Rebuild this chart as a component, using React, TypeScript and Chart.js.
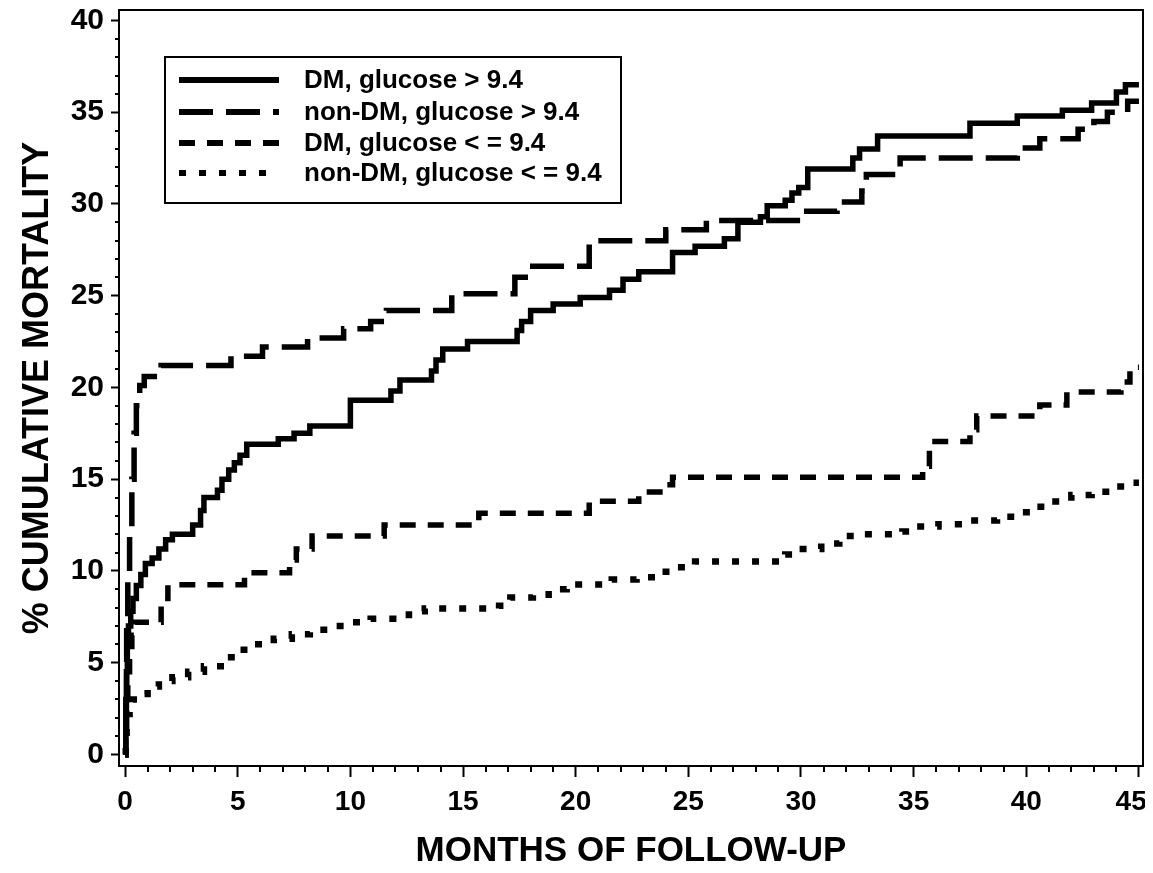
import React, { useEffect, useRef } from "react";
import { Chart, registerables } from "chart.js";

Chart.register(...registerables);

// ---- Data (Kaplan-Meier step points: month, cumulative mortality %) ----
const dmHighMonths = [0, 0.03, 0.06, 0.1, 0.15, 0.25, 0.35, 0.5, 0.7, 0.9, 1.2, 1.5, 1.8, 2.1, 3.0, 3.35, 3.5, 4.1, 4.3, 4.6, 4.85, 5.1, 5.4, 6.8, 7.5, 8.2, 10.0, 11.8, 12.2, 13.6, 13.8, 14.1, 15.2, 17.4, 17.6, 18.0, 19.0, 20.2, 21.5, 22.1, 22.8, 24.3, 25.3, 26.6, 27.2, 28.2, 28.5, 29.3, 29.6, 29.9, 30.3, 32.3, 32.6, 33.4, 37.5, 39.6, 41.6, 42.9, 44.0, 44.4, 45.0];
const dmHighPct = [0, 2.5, 4.5, 6, 7, 7.8, 8.5, 9.2, 9.8, 10.4, 10.7, 11.2, 11.7, 12.0, 12.5, 13.3, 14.0, 14.4, 15.0, 15.5, 15.9, 16.3, 16.9, 17.2, 17.5, 17.9, 19.3, 19.8, 20.4, 20.9, 21.5, 22.1, 22.5, 23.1, 23.6, 24.2, 24.55, 24.9, 25.3, 25.9, 26.3, 27.35, 27.7, 28.1, 29.0, 29.3, 29.9, 30.2, 30.6, 30.9, 31.9, 32.5, 33.0, 33.7, 34.4, 34.8, 35.1, 35.5, 36.1, 36.5, 36.5];

const nonDmHighMonths = [0, 0.03, 0.07, 0.12, 0.2, 0.3, 0.4, 0.5, 0.65, 0.85, 1.6, 4.7, 6.1, 8.1, 9.7, 10.9, 11.6, 14.5, 17.3, 17.9, 20.6, 24.0, 25.8, 30.0, 31.6, 32.7, 32.9, 34.4, 39.6, 40.6, 42.3, 43.0, 43.6, 44.5, 45.0];
const nonDmHighPct = [0, 3, 7, 9.5, 12, 15, 17.5, 19, 20.1, 20.6, 21.2, 21.7, 22.2, 22.7, 23.2, 23.6, 24.2, 25.1, 26.0, 26.6, 28.0, 28.6, 29.1, 29.6, 30.1, 30.7, 31.6, 32.5, 33.05, 33.56, 34.07, 34.5, 35.0, 35.6, 35.6];

const dmLowMonths = [0, 0.03, 0.07, 0.12, 0.2, 0.3, 0.45, 1.6, 1.9, 5.3, 7.3, 7.6, 8.3, 11.5, 15.7, 20.6, 22.8, 24.0, 24.3, 35.4, 35.7, 37.5, 37.8, 40.6, 41.8, 44.2, 44.6, 45.0];
const dmLowPct = [0, 1.5, 3, 4.5, 5.5, 6.5, 7.2, 8.5, 9.25, 9.9, 10.6, 11.2, 11.9, 12.5, 13.15, 13.8, 14.3, 14.7, 15.1, 15.7, 17.05, 17.7, 18.45, 19.05, 19.75, 20.3, 21.1, 21.1];

const nonDmLowMonths = [0, 0.03, 0.07, 0.12, 0.2, 0.35, 0.6, 1.0, 1.5, 2.1, 2.8, 3.5, 4.4, 5.1, 5.7, 6.6, 7.4, 8.2, 9.1, 10.0, 10.9, 11.9, 12.6, 13.3, 16.6, 17.1, 18.1, 18.8, 19.6, 21.6, 22.7, 23.6, 24.5, 25.3, 29.3, 29.9, 30.9, 31.7, 32.6, 34.5, 35.3, 36.1, 37.0, 38.7, 39.5, 40.2, 41.1, 42.0, 42.9, 43.8, 44.7, 45.0];
const nonDmLowPct = [0, 0.8, 1.6, 2.2, 2.7, 3.0, 3.3, 3.7, 4.0, 4.2, 4.5, 4.8, 5.3, 5.7, 6.0, 6.3, 6.55, 6.8, 7.0, 7.2, 7.4, 7.6, 7.8, 7.95, 8.1, 8.55, 8.7, 9.0, 9.26, 9.53, 9.65, 9.95, 10.2, 10.52, 10.9, 11.2, 11.5, 11.9, 12.0, 12.15, 12.42, 12.55, 12.75, 12.96, 13.2, 13.5, 13.78, 14.14, 14.32, 14.6, 14.8, 14.8];

const seriesLabels = [
  "DM, glucose > 9.4",
  "non-DM, glucose > 9.4",
  "DM, glucose < = 9.4",
  "non-DM, glucose < = 9.4",
];

const xTickValues = [0, 5, 10, 15, 20, 25, 30, 35, 40, 45];
const yTickValues = [0, 5, 10, 15, 20, 25, 30, 35, 40];
const xMinorTicks = Array.from({ length: 46 }, (_, i) => i).filter((v) => v % 5 !== 0);
const yMinorTicks = Array.from({ length: 41 }, (_, i) => i).filter((v) => v % 5 !== 0);

const FONT = "'Liberation Sans', Arial, Helvetica, sans-serif";

const toPoints = (xs: number[], ys: number[]) => xs.map((x, i) => ({ x, y: ys[i] }));

const framePlugin = {
  id: "frameMinorLegend",
  afterDraw(chart: any) {
    const { ctx, chartArea: a, scales } = chart;
    ctx.save();
    // frame
    ctx.strokeStyle = "#000";
    ctx.lineWidth = 2;
    ctx.setLineDash([]);
    ctx.strokeRect(a.left, a.top, a.right - a.left, a.bottom - a.top);
    // minor ticks
    ctx.beginPath();
    xMinorTicks.forEach((v) => {
      const px = Math.round(scales.x.getPixelForValue(v));
      ctx.moveTo(px, a.bottom);
      ctx.lineTo(px, a.bottom + 6);
    });
    yMinorTicks.forEach((v) => {
      const py = Math.round(scales.y.getPixelForValue(v));
      ctx.moveTo(a.left, py);
      ctx.lineTo(a.left - 4, py);
    });
    ctx.stroke();

    // legend box
    const bx = a.left + 46;
    const by = a.top + 47;
    const bw = 456;
    const bh = 146;
    ctx.fillStyle = "#fff";
    ctx.fillRect(bx, by, bw, bh);
    ctx.lineWidth = 2;
    ctx.strokeRect(bx, by, bw, bh);
    const rows = [23, 55, 86, 116];
    ctx.font = `bold 26px ${FONT}`;
    ctx.textBaseline = "middle";
    ctx.textAlign = "left";
    chart.data.datasets.forEach((ds: any, i: number) => {
      const cy = by + rows[i];
      ctx.beginPath();
      ctx.lineWidth = 6;
      ctx.lineCap = "butt";
      ctx.setLineDash(ds.borderDash || []);
      ctx.moveTo(bx + 14, cy);
      ctx.lineTo(bx + 114, cy);
      ctx.stroke();
      ctx.setLineDash([]);
      ctx.fillStyle = "#000";
      ctx.fillText(ds.label, bx + 139, cy + 1);
    });
    ctx.restore();
  },
};

export default function App() {
  const ref = useRef<HTMLCanvasElement | null>(null);

  useEffect(() => {
    if (!ref.current) return;
    const common = {
      borderColor: "#000",
      backgroundColor: "#000",
      pointRadius: 0,
      stepped: true,
      fill: false,
      borderCapStyle: "butt",
      borderJoinStyle: "miter",
    };
    const lastX = xTickValues[xTickValues.length - 1];
    const chart = new Chart(ref.current, {
      type: "line",
      data: {
        datasets: [
          { ...common, label: seriesLabels[0], data: toPoints(dmHighMonths, dmHighPct), borderWidth: 5.5, borderDash: [] },
          { ...common, label: seriesLabels[1], data: toPoints(nonDmHighMonths, nonDmHighPct), borderWidth: 5.5, borderDash: [34, 13] },
          { ...common, label: seriesLabels[2], data: toPoints(dmLowMonths, dmLowPct), borderWidth: 5.5, borderDash: [16, 12] },
          { ...common, label: seriesLabels[3], data: toPoints(nonDmLowMonths, nonDmLowPct), borderWidth: 6.5, borderDash: [7, 13] },
        ] as any,
      },
      options: {
        animation: false,
        responsive: false,
        devicePixelRatio: 1,
        layout: { padding: { left: 0, top: 2, right: 10, bottom: 0 } },
        plugins: { legend: { display: false }, tooltip: { enabled: false } },
        scales: {
          x: {
            type: "linear",
            min: -0.27,
            max: 45.18,
            afterBuildTicks: (s: any) => {
              s.ticks = xTickValues.map((v) => ({ value: v }));
            },
            afterFit: (s: any) => {
              s.height = 99;
              s.paddingLeft = 0;
              s.paddingRight = 0;
            },
            ticks: {
              color: "#000",
              font: { family: FONT, size: 28, weight: "bold" },
              padding: 8,
              maxRotation: 0,
              autoSkip: false,
              callback: (v: any) => (v === lastX ? `${v}  ` : `${v}`),
            },
            grid: { drawOnChartArea: false, drawTicks: true, tickLength: 11, tickWidth: 2, tickColor: "#000" },
            border: { display: true, color: "#000", width: 2 },
            title: {
              display: true,
              text: "MONTHS OF FOLLOW-UP",
              color: "#000",
              font: { family: FONT, size: 35, weight: "bold", lineHeight: 1 },
              padding: { top: 0, bottom: -4 },
            },
          },
          y: {
            type: "linear",
            min: -0.63,
            max: 40.57,
            afterBuildTicks: (s: any) => {
              s.ticks = yTickValues.map((v) => ({ value: v }));
            },
            afterFit: (s: any) => {
              s.width = 111;
              s.paddingTop = 0;
              s.paddingBottom = 0;
            },
            ticks: {
              color: "#000",
              font: { family: FONT, size: 30, weight: "bold" },
              padding: 7,
              autoSkip: false,
            },
            grid: { drawOnChartArea: false, drawTicks: true, tickLength: 8, tickWidth: 2, tickColor: "#000" },
            border: { display: true, color: "#000", width: 2 },
            title: {
              display: true,
              text: "% CUMULATIVE MORTALITY",
              color: "#000",
              font: { family: FONT, size: 36, weight: "bold", lineHeight: 1 },
              padding: { top: 12, bottom: 0 },
            },
          },
        },
      } as any,
      plugins: [framePlugin],
    });
    return () => chart.destroy();
  }, []);

  return (
    <canvas
      ref={ref}
      width={1145}
      height={857}
      style={{ display: "block", width: 1145, height: 857 }}
    />
  );
}
